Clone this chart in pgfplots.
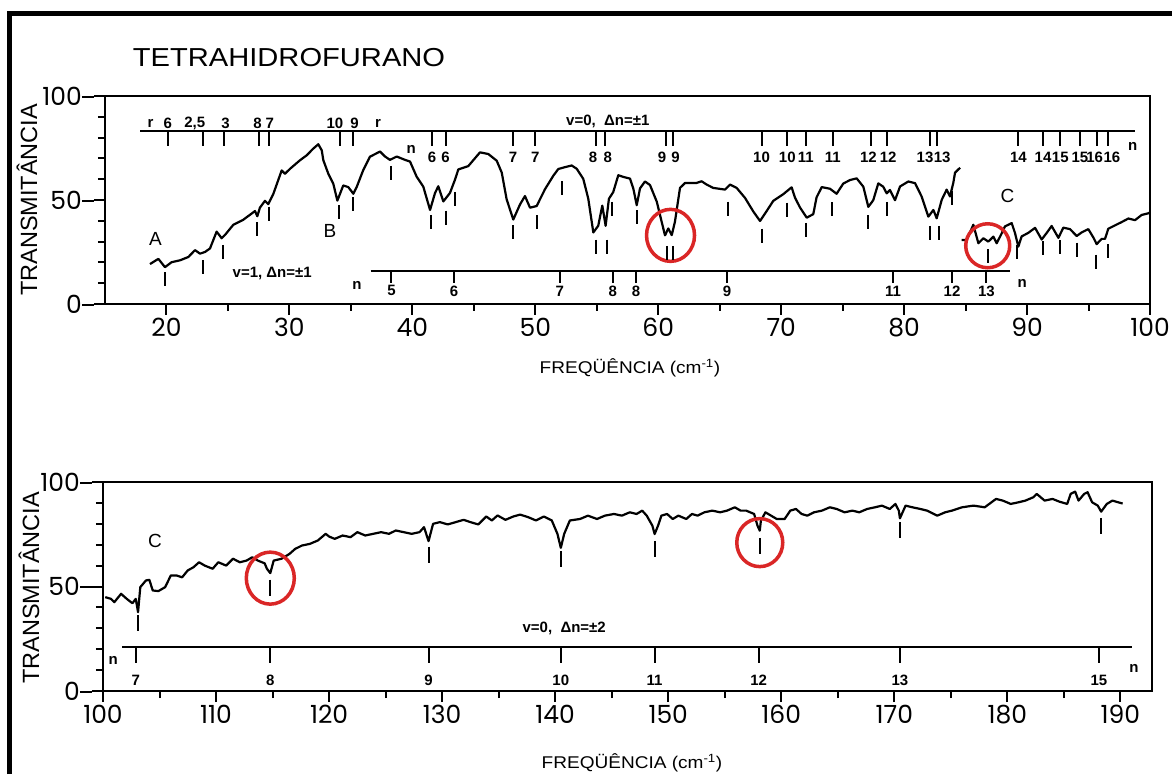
\documentclass[border=0pt]{standalone}
\usepackage{pgfplots}
\pgfplotsset{compat=1.18}
\usepackage{fontspec}
\usepackage{graphicx}
\setmainfont{Liberation Sans}
\newfontfamily\tickfont{Poppins}
\definecolor{circ}{RGB}{218,38,38}
\newcommand\hs[1]{\scalebox{1.12}[1]{#1}}
\newcommand\ann{\fontsize{15}{15}\selectfont\bfseries}
\newcommand\tk{\tickfont\fontsize{25}{25}\selectfont}

\pgfplotsset{
  spec/.style={
    scale only axis, clip=false,
    axis line style={line width=2.2pt},
    tick style={black, line width=2pt},
    tick align=outside, tick pos=left,
    major tick length=11pt, minor tick length=7pt,
    ymin=0, ymax=100, ytick={0,50,100}, minor ytick={10,20,30,40,60,70,80,90},
    /pgf/number format/assume math mode=true,
    xticklabel={\tk\pgfmathprintnumber{\tick}},
    yticklabel={\tk\pgfmathprintnumber{\tick}\rule[7.5pt]{12pt}{2pt}},
    yticklabel style={inner xsep=0pt},
  },
  spectrum/.style={black, line width=2.2pt, line join=round},
  bar/.style={black, line width=2pt},
  barticks/.style={only marks, mark=|, mark size=7.5pt, mark options={line width=2pt}},
  labels/.style={draw=none, mark=none, nodes near coords, point meta=explicit symbolic,
    every node near coord/.append style={anchor=center, font=\ann, inner sep=0pt}},
}

\begin{document}
\begin{tikzpicture}[x=1pt,y=1pt]
\useasboundingbox (0,0) rectangle (1172,774);
\fill[white] (0,0) rectangle (1172,774);
\draw[line width=5pt, line join=miter] (9.5,0) -- (9.5,760) -- (1172,760);

\node at (289,716) {\fontsize{26}{26}\selectfont\hs{TETRAHIDROFURANO}};
\node[rotate=90] at (27,574) {\fontsize{23.5}{23.5}\selectfont TRANSMITÂNCIA};
\node[rotate=90] at (29,186) {\fontsize{23.5}{23.5}\selectfont TRANSMITÂNCIA};
\node at (630,406) {\fontsize{17}{17}\selectfont\hs{FREQÜÊNCIA (cm\textsuperscript{-1})}};
\node at (632,11) {\fontsize{17}{17}\selectfont\hs{FREQÜÊNCIA (cm\textsuperscript{-1})}};

% ---------- 18-100 cm-1 ----------
\begin{axis}[spec, at={(105pt,470pt)}, anchor=south west, width=1045pt, height=208pt,
  xmin=15, xmax=100, xtick={20,30,...,100}, minor xtick={25,35,...,95}]
\addplot[spectrum] coordinates {
(18.66,19.2)(19.34,21.7)(19.88,17.7)(20.42,20.1)(21.1,21.0)(21.78,22.6)(22.32,25.9)(22.73,24.2)
(23.13,25.0)(23.54,26.7)(24.08,34.8)(24.49,31.6)(24.76,33.2)(25.44,38.1)(26.25,40.5)(27.2,44.7)
(27.39,42.2)(27.6,46.3)(28.01,49.6)(28.28,48.0)(28.69,52.9)(29.37,64.2)(29.64,62.6)(30.05,65.0)
(30.86,69.1)(31.41,71.5)(31.94,74.7)(32.35,76.8)(32.63,73.9)(32.76,69.1)(33.16,62.7)(33.57,57.8)
(33.9,49.7)(34.38,57.0)(34.79,56.2)(35.2,53.0)(35.47,56.2)(36.0,64.3)(36.55,70.8)(37.37,73.3)
(37.78,70.9)(38.18,69.3)(38.73,70.9)(39.4,69.3)(39.81,68.5)(40.35,61.2)(40.89,56.4)(41.44,45.2)
(41.84,53.3)(42.11,56.6)(42.52,49.3)(43.06,53.4)(43.47,59.8)(43.74,64.7)(44.55,66.3)(45.5,72.9)
(46.18,72.1)(46.86,68.9)(47.27,63.2)(47.67,50.3)(48.21,40.6)(48.76,47.9)(49.16,51.9)(49.57,46.3)
(50.11,47.1)(50.79,55.2)(51.47,61.7)(51.87,64.9)(52.42,65.8)(52.96,66.6)(53.37,65.0)(53.9,60.2)
(54.31,50.6)(54.72,34.4)(55.12,37.6)(55.45,47.3)(55.72,37.6)(55.99,50.6)(56.34,53.8)(56.75,61.9)
(57.16,61.1)(57.7,60.3)(57.97,55.6)(58.25,47.5)(58.52,55.6)(58.92,58.9)(59.33,57.2)(59.88,49.2)
(60.28,39.5)(60.55,33.0)(60.82,36.3)(61.1,33.1)(61.36,39.6)(61.77,55.8)(62.18,58.2)(63.12,58.2)
(63.53,59.0)(63.94,57.4)(64.48,55.8)(65.43,55.0)(65.84,57.4)(66.38,55.8)(67.06,51.0)(67.73,44.5)
(68.28,39.9)(68.82,44.7)(69.36,49.6)(70.17,52.8)(70.85,56.1)(71.12,51.2)(71.53,46.4)(72.08,41.5)
(72.61,43.2)(72.88,51.3)(73.3,56.2)(73.97,55.4)(74.51,53.0)(75.05,57.9)(75.6,59.6)(76.14,60.4)
(76.68,56.4)(77.09,46.7)(77.49,49.9)(77.9,58.0)(78.3,56.4)(78.58,53.2)(78.85,54.8)(79.26,49.9)
(79.67,56.5)(80.34,58.9)(80.89,58.1)(81.43,51.6)(81.97,42.0)(82.38,45.2)(82.65,41.2)(83.06,50.1)
(83.46,55.0)(83.73,51.7)(84.0,58.2)(84.14,63.1)(84.55,65.5)
};
\addplot[spectrum] coordinates {
(84.68,30.8)(85.09,30.8)(85.63,38.1)(86.04,29.2)(86.44,31.6)(86.85,30.0)(87.26,32.4)(87.53,29.2)
(87.94,34.0)(88.2,37.3)(88.75,38.9)(89.02,34.1)(89.29,27.6)(89.56,32.5)(90.1,34.2)(90.65,36.6)
(91.19,31.0)(91.6,34.2)(92.0,37.5)(92.55,31.8)(92.95,36.7)(93.49,36.0)(94.04,32.7)(94.44,34.4)
(94.98,36.0)(95.39,32.0)(95.66,28.8)(96.07,31.3)(96.34,31.3)(96.61,36.2)(97.15,37.8)(97.7,39.4)
(98.24,41.1)(98.78,40.3)(99.32,42.8)(99.86,43.6)(100,44.0)
};
% band marks under the absorptions
\addplot[barticks, mark size=7pt] coordinates {
(19.9,12)(23.0,17.6)(24.6,25)(27.4,36)(28.3,43.5)(34.0,44)(35.2,48)(38.3,63)(41.5,39.5)(42.7,41.5)
(43.5,50.5)(48.2,34.5)(50.1,39.4)(52.2,55.7)(54.9,27.6)(55.8,27.6)(56.2,45.7)(58.3,41.8)(60.7,24.6)
(61.2,24.6)(65.7,45.9)(68.4,32.9)(70.5,45.4)(72.0,35.6)(74.1,45.5)(77.1,39.4)(78.6,45.7)(82.1,34.2)
(82.8,34.2)(83.9,51)(86.8,23)(89.2,25.2)(91.3,26.7)(92.7,27.2)(94.1,26.2)(95.6,20.4)(96.6,25.3)
};
% v=0 assignment bar
\addplot[bar] coordinates {(17.85,83) (98.8,83)};
\addplot[barticks] coordinates {
(20.1,79.5)(23.0,79.5)(24.7,79.5)(27.5,79.5)(28.3,79.5)(34.1,79.5)(35.2,79.5)
(41.6,79.5)(42.7,79.5)(48.2,79.5)(50.0,79.5)(54.9,79.5)(55.7,79.5)(60.6,79.5)(61.2,79.5)
(68.4,79.5)(70.5,79.5)(72.0,79.5)(74.2,79.5)(77.3,79.5)(78.6,79.5)(82.1,79.5)(82.7,79.5)
(89.3,79.5)(91.3,79.5)(92.7,79.5)(94.3,79.5)(95.7,79.5)(96.6,79.5)
};
\addplot[labels] coordinates {
(18.7,87)[r] (20.1,87)[6] (22.3,87)[2{,}5] (24.8,87)[3] (27.4,87)[8] (28.4,87)[7]
(33.7,87)[10] (35.3,87)[9] (37.2,87)[r] (55.9,87.7)[v=0,\ \ Δn=±1]
(39.9,74.5)[n] (41.6,70.5)[6] (42.7,70.5)[6] (48.2,70.5)[7] (50.0,70.5)[7] (54.7,70.5)[8] (55.9,70.5)[8]
(60.3,70.5)[9] (61.4,70.5)[9] (68.4,70.5)[10] (70.5,70.5)[10] (72.0,70.5)[11] (74.2,70.5)[11]
(77.1,70.5)[12] (78.7,70.5)[12] (81.7,70.5)[13] (83.1,70.5)[13] (89.3,70.5)[14] (91.3,70.5)[14]
(92.7,70.5)[15] (94.3,70.5)[15] (95.5,70.5)[16] (96.9,70.5)[16] (98.6,75.5)[n]
(28.6,14.5)[v=1,\ Δn=±1] (35.5,9)[n] (89.6,10)[n]
};
% v=1 assignment bar
\addplot[bar] coordinates {(36.6,16) (88.6,16)};
\addplot[barticks, mark size=6pt] coordinates {
(38.3,13)(43.4,13)(52.0,13)(56.3,13)(58.2,13)(65.6,13)(79.1,13)(83.9,13)(86.7,13)
};
\addplot[labels] coordinates {
(38.3,6.3)[5] (43.4,6.3)[6] (52.0,6.3)[7] (56.3,6.3)[8] (58.2,6.3)[8] (65.6,6.3)[9]
(79.1,6.3)[11] (83.9,6.3)[12] (86.7,6.3)[13]
};
\node[font=\fontsize{19}{19}\selectfont] at (axis cs:19.1,31.5) {A};
\node[font=\fontsize{19}{19}\selectfont] at (axis cs:33.3,35) {B};
\node[font=\fontsize{19}{19}\selectfont] at (axis cs:88.4,52) {C};
\draw[circ, line width=3.5pt] (axis cs:61,33) ellipse [x radius=24pt, y radius=26pt];
\draw[circ, line width=3.5pt] (axis cs:86.8,28) ellipse [x radius=22pt, y radius=22pt];
\end{axis}

% ---------- 100-190 cm-1 ----------
\begin{axis}[spec, at={(103pt,83pt)}, anchor=south west, width=1049pt, height=209pt,
  xmin=100, xmax=192.8, xtick={100,110,...,190}, minor xtick={105,115,...,185}]
\addplot[spectrum] coordinates {
(100.2,44.9)(100.7,44.1)(101.0,42.5)(101.6,46.5)(102.1,44.1)(102.6,42.0)(102.9,44.1)(103.1,37.7)
(103.3,49.7)(103.8,52.9)(104.1,53.2)(104.4,48.1)(104.9,47.8)(105.5,49.7)(106.0,55.3)(106.5,55.3)
(107.0,54.4)(107.5,57.7)(108.0,59.2)(108.5,61.6)(109.0,60.0)(109.7,58.5)(110.2,61.6)(110.9,60.0)
(111.5,63.3)(112.1,61.6)(112.7,62.4)(113.2,64.0)(113.7,62.4)(114.3,61.1)(114.5,58.5)(114.8,56.4)
(115.1,62.4)(115.8,63.3)(116.5,65.6)(117.0,68.0)(117.6,69.6)(118.3,70.4)(119.0,72.0)(119.7,75.2)
(120.0,73.9)(120.5,72.8)(121.2,74.4)(121.9,73.6)(122.5,76.0)(123.2,74.4)(123.9,75.2)(124.6,76.0)
(125.3,75.2)(125.9,76.8)(126.6,76.0)(127.3,75.2)(128.0,76.0)(128.4,78.4)(128.8,71.7)(129.2,80.0)
(129.8,80.8)(130.5,79.7)(131.2,80.8)(131.9,81.9)(132.5,80.8)(133.2,79.7)(133.9,83.5)(134.4,81.6)
(134.9,84.0)(135.6,81.9)(136.3,83.5)(136.9,84.4)(137.6,83.2)(138.3,81.6)(139.0,83.5)(139.7,81.6)
(140.2,75.2)(140.5,68.5)(140.8,75.2)(141.3,81.6)(142.2,82.3)(142.9,83.9)(143.7,82.3)(144.4,83.9)
(145.2,84.7)(145.9,83.9)(146.6,85.5)(147.2,84.7)(147.7,86.3)(148.1,83.9)(148.6,79.1)(148.8,75.1)
(149.1,79.1)(149.4,83.9)(149.9,84.7)(150.4,82.3)(150.9,83.9)(151.6,82.3)(152.1,84.7)(152.6,83.9)
(153.2,85.5)(153.9,86.3)(154.6,85.5)(155.2,86.3)(155.9,87.9)(156.4,86.3)(156.9,86.3)(157.6,84.7)
(157.9,79.1)(158.1,76.7)(158.2,81.5)(158.6,85.5)(159.1,83.9)(159.6,82.3)(160.3,82.3)(160.8,86.3)
(161.3,87.1)(161.8,84.7)(162.3,83.9)(162.9,85.5)(163.6,86.3)(164.3,87.9)(164.9,87.1)(165.6,85.5)
(166.3,86.3)(166.9,85.5)(167.6,87.1)(168.3,87.9)(168.9,88.7)(169.6,87.1)(170.1,89.5)(170.4,86.3)
(170.5,82.6)(170.8,86.3)(171.0,88.7)(171.6,87.9)(172.3,87.1)(172.9,86.3)(173.8,83.9)(174.5,85.5)
(175.1,86.3)(176.0,87.9)(177.0,88.7)(178.0,87.9)(178.6,90.3)(179.0,91.9)(179.6,91.1)(180.3,89.5)
(181.0,90.3)(181.6,91.1)(182.3,92.7)(182.6,94.3)(183.3,91.1)(184.0,91.9)(184.6,90.6)(185.3,89.5)
(185.6,94.3)(186.0,95.4)(186.3,91.1)(186.8,94.3)(187.1,95.1)(187.5,90.3)(188.0,88.7)(188.3,85.8)
(188.8,89.5)(189.3,91.1)(189.8,90.3)(190.2,89.7)
};
\addplot[barticks, mark size=8pt] coordinates {
(103.1,32.3)(114.8,49.5)(128.8,65.3)(140.5,63)(148.8,68)(158.1,69.4)(170.5,77)(188.3,79)
};
% v=0, dn=2 assignment bar
\addplot[bar] coordinates {(101.7,21) (191.0,21)};
\addplot[barticks, mark size=8pt] coordinates {
(102.9,17.2)(114.8,17.2)(128.8,17.2)(140.5,17.2)(148.8,17.2)(158.0,17.2)(170.5,17.2)(188.1,17.2)
};
\addplot[labels] coordinates {
(102.9,5)[7] (114.8,5)[8] (128.8,5)[9] (140.5,5)[10] (148.8,5)[11] (158.0,5)[12]
(170.5,5)[13] (188.1,5)[15] (100.9,14.5)[n] (191.2,11)[n] (140.8,30)[v=0,\ \ Δn=±2]
};
\node[font=\fontsize{19}{19}\selectfont] at (axis cs:104.6,72) {C};
\draw[circ, line width=3.5pt] (axis cs:114.8,54) ellipse [x radius=24pt, y radius=26pt];
\draw[circ, line width=3.5pt] (axis cs:158.1,71) ellipse [x radius=23pt, y radius=24pt];
\end{axis}
\end{tikzpicture}
\end{document}
